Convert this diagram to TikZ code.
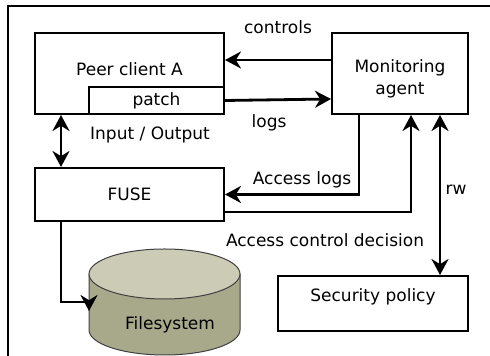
\documentclass[tikz,border=0pt]{standalone}
\usepackage{fontspec}
\setmainfont{DejaVu Sans}
\usetikzlibrary{arrows.meta}
\definecolor{fstop}{RGB}{204,203,182}
\definecolor{fsbody}{RGB}{168,168,139}

\begin{document}
\begin{tikzpicture}[x=0.5pt,y=0.5pt,>={Stealth[length=8pt,width=8.5pt]},
	every node/.style={font=\fontsize{8.5}{11}\selectfont},
	box/.style={draw,line width=1pt,inner sep=0pt},
	link/.style={line width=1.4pt}]
				\useasboundingbox (0,0) rectangle (490,356);
				\draw[line width=1pt] (8,0) -- (8,350) -- (490,350);

				% boxes
				\node[box,minimum width=94.5pt,minimum height=40.5pt] (peer) at (129.5,282.5) {};
				\node[box,minimum width=67.5pt,minimum height=13.5pt] (patch) at (156.5,255.5) {patch};
				\node[box,minimum width=68pt,minimum height=40.5pt] (mon) at (400,282.5) {};
				\node[box,minimum width=94.5pt,minimum height=26.5pt] (fuse) at (129.5,161.5) {FUSE};
				\node[box,minimum width=95pt,minimum height=27.5pt] (sec) at (373,52.5) {};

				\node (peertxt) at ([yshift=2.25pt]peer.center) {Peer client A};
				\node[align=center] (montxt) at ([yshift=-2.75pt]mon.center) {Monitoring\\agent};
				\node (sectxt) at ([yshift=3.25pt]sec.center) {Security policy};

				% filesystem
				\fill[fsbody] (89,82) -- (89,26) arc[start angle=180,end angle=360,x radius=75.5,y radius=25] -- (240,82) -- cycle;
				\draw[black!75,line width=0.5pt] (89,82) -- (89,26) arc[start angle=180,end angle=360,x radius=75.5,y radius=25] -- (240,82);
				\filldraw[fill=fstop,draw=black!75,line width=0.5pt] (164.5,82) ellipse[x radius=75.5,y radius=25];
				\node (fs) at (170,31) {Filesystem};
				\coordinate (fsleft) at (89,54);

				{
				\path[link,->]
				([yshift=6.75pt]mon.west) edge ([yshift=6.75pt]peer.east)
				(patch.east) edge ([yshift=-12.75pt]mon.west)
				;
				\draw[link,<->] ([xshift=13.5pt]peer.south west) -- ([xshift=13.5pt]fuse.north west);
				\draw[link,->] ([xshift=14pt]mon.south west) |- (fuse.east);
				\draw[link,->] ([yshift=-8.75pt]fuse.east) -| ([xshift=40pt]mon.south west);
				\draw[link,<->] ([xshift=54.5pt]mon.south west) coordinate (rwtop) -- (rwtop |- sec.north);
				\draw[link,->] ([xshift=13.5pt]fuse.south west) |- (fsleft) -- ([yshift=-4.5pt]fsleft);
				}

				% labels
				\node (lctrl) at (278,329) {controls};
				\node (llogs) at (269,233) {logs};
				\node (lio) at (150,221) {Input / Output};
				\node (lacc) at (302,176) {Access logs};
				\node (ldec) at (325,116) {Access control decision};
				\node (lrw) at (456,166) {rw};
\end{tikzpicture}
\end{document}
